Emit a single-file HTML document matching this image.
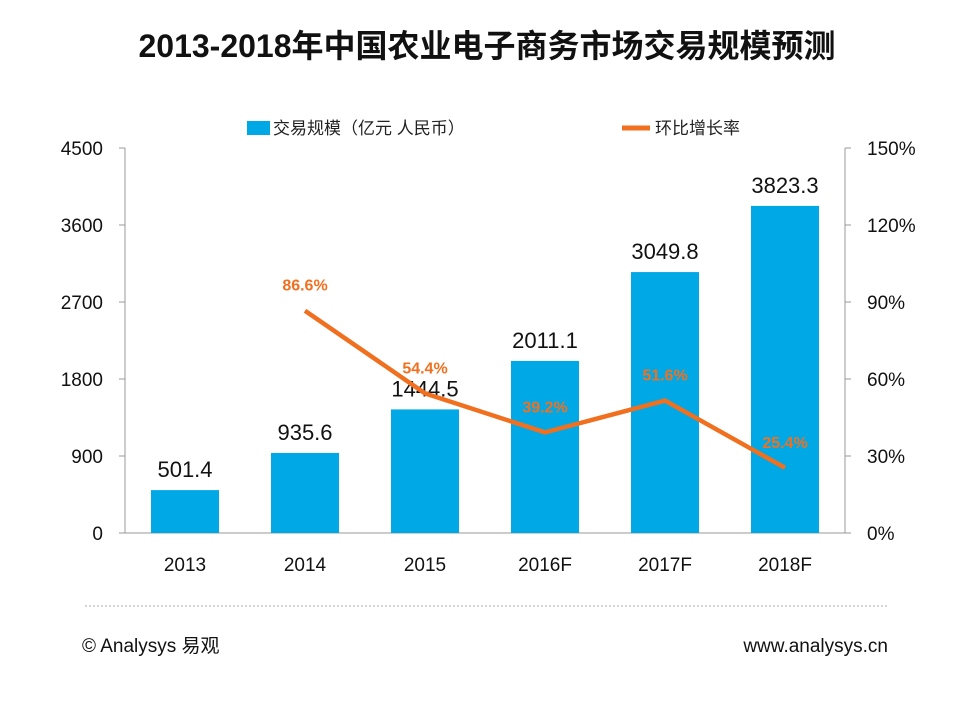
<!DOCTYPE html>
<html><head><meta charset="utf-8">
<style>
body{margin:0;background:#fff;}
svg{display:block;font-family:"Liberation Sans","Noto Sans CJK SC",sans-serif;}
</style></head>
<body>
<svg id="c" width="960" height="720" viewBox="0 0 960 720">
<text x="487" y="57" text-anchor="middle" font-size="32" font-weight="bold" fill="#111">2013-2018年中国农业电子商务市场交易规模预测</text>
<g>
<rect x="247" y="121" width="23" height="14" fill="#00a9e6"/>
<text x="273" y="134" font-size="17" fill="#222">交易规模（亿元 人民币）</text>
<line x1="622" y1="128" x2="650" y2="128" stroke="#f07020" stroke-width="5"/>
<text x="655" y="134" font-size="17" fill="#222">环比增长率</text>
</g>
<g id="axes"></g>
<g id="bars"></g>
<g id="line"></g>
<line x1="85" y1="606" x2="888" y2="606" stroke="#aaa" stroke-dasharray="2,2"/>
<text x="82" y="652" font-size="19" fill="#111">© Analysys 易观</text>
<text x="888" y="652" font-size="19" fill="#111" text-anchor="end">www.analysys.cn</text>
</svg>
<script>
const categories=["2013","2014","2015","2016F","2017F","2018F"];
const volumes=[501.4,935.6,1444.5,2011.1,3049.8,3823.3];
const growth=[null,86.6,54.4,39.2,51.6,25.4];
const leftTicks=[0,900,1800,2700,3600,4500];
const rightTicks=[0,30,60,90,120,150];
const NS="http://www.w3.org/2000/svg";
const X0=125,X1=845,Y0=533,Y1=148;
const band=(X1-X0)/categories.length;
const xc=i=>X0+band*(i+0.5);
const yL=v=>Y0-(v/4500)*(Y0-Y1);
const yR=v=>Y0-(v/150)*(Y0-Y1);
function mk(tag,attrs,parent,txt){const e=document.createElementNS(NS,tag);for(const k in attrs)e.setAttribute(k,attrs[k]);if(txt!==undefined)e.textContent=txt;parent.appendChild(e);return e;}
const ax=document.getElementById('axes');
let e;
e=mk('line',{x1:X0,y1:Y1,x2:X0,y2:Y0,stroke:'#999'},ax);


e=mk('line',{x1:X1,y1:Y1,x2:X1,y2:Y0,stroke:'#999'},ax);


e=mk('line',{x1:X0,y1:Y0,x2:X1,y2:Y0,stroke:'#999'},ax);


leftTicks.forEach(t=>{const y=yL(t);
mk('line',{x1:X0-6,y1:y,x2:X0,y2:y,stroke:'#999'},ax);
e=mk('text',{x:103,y:y+7,'font-size':19,'text-anchor':'end',fill:'#111'},ax,String(t));

});
rightTicks.forEach(t=>{const y=yR(t);
mk('line',{x1:X1,y1:y,x2:X1+6,y2:y,stroke:'#999'},ax);
e=mk('text',{x:867,y:y+7,'font-size':19,fill:'#111'},ax,t+'%');

});
categories.forEach((c,i)=>{e=mk('text',{x:xc(i),y:571,'font-size':19,'text-anchor':'middle',fill:'#111'},ax,c);

});
const bg=document.getElementById('bars');
volumes.forEach((v,i)=>{const bw=68;
e=mk('rect',{x:xc(i)-bw/2,y:yL(v),width:bw,height:Y0-yL(v),fill:'#00a9e6'},bg);


e=mk('text',{x:xc(i),y:yL(v)-13,'font-size':22,'text-anchor':'middle',fill:'#111'},bg,v.toFixed(1));

});
const lg=document.getElementById('line');
const pts=[];growth.forEach((g,i)=>{if(g!==null)pts.push([xc(i),yR(g),g]);});
e=mk('polyline',{points:pts.map(p=>p[0]+','+p[1]).join(' '),fill:'none',stroke:'#f07020','stroke-width':4.5,'stroke-linejoin':'round'},lg);


pts.forEach(p=>{e=mk('text',{x:p[0],y:p[1]-20,'font-size':16,'font-weight':'bold','text-anchor':'middle',fill:'#f07020'},lg,p[2].toFixed(1)+'%');

});
</script>
</body></html>
